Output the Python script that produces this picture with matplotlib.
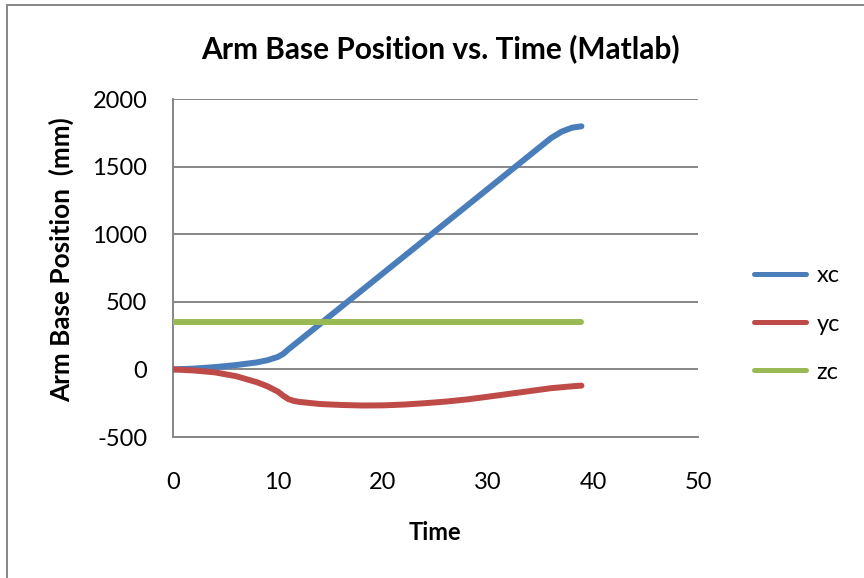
import matplotlib
matplotlib.use("Agg")
import matplotlib.pyplot as plt
from matplotlib.patches import Rectangle

plt.rcParams['font.family'] = ['Lato', 'DejaVu Sans']

# Data
t_xc = [0, 2, 4, 6, 8, 9, 10, 10.5, 11, 12, 14, 16, 18, 20, 22, 24, 26, 28, 30, 32, 34, 36, 37, 38, 38.9]
xc = [0, 6, 17, 32, 52, 68, 93, 115, 149, 211, 336, 461, 586, 711, 836, 961, 1086, 1211, 1336, 1461, 1586, 1711, 1758, 1788, 1798]

t_yc = [0, 2, 4, 6, 8, 9, 10, 10.5, 11, 11.5, 12, 14, 16, 18, 20, 22, 24, 26, 28, 30, 32, 34, 36, 38, 38.9]
yc = [0, -8, -22, -50, -95, -125, -165, -195, -220, -233, -240, -256, -263, -267, -266, -260, -250, -238, -222, -202, -181, -160, -139, -125, -120]

t_zc = [0, 10, 20, 30, 38.9]
zc = [350, 350, 350, 350, 350]

series_names = ['xc', 'yc', 'zc']
colors = ['#4A7EBB', '#BE4B48', '#98B954']

x_ticks = [0, 10, 20, 30, 40, 50]
y_ticks = [-500, 0, 500, 1000, 1500, 2000]

W, H = 864, 578
fig = plt.figure(figsize=(W / 100, H / 100), dpi=100)
ax = fig.add_axes([173 / W, 1 - 437 / H, (698 - 173) / W, (437 - 99) / H])

for tt, vv, name, c in zip([t_xc, t_yc, t_zc], [xc, yc, zc], series_names, colors):
    ax.plot(tt, vv, color=c, lw=4.3, label=name, solid_capstyle='round',
            solid_joinstyle='round', zorder=3)

ax.set_xlim(0, 50)
ax.set_ylim(-500, 2000)
ax.set_xticks(x_ticks)
ax.set_yticks(y_ticks)
ax.set_xticklabels([str(v) for v in x_ticks])
ax.set_yticklabels([str(v) for v in y_ticks])
ax.tick_params(axis='both', length=0, labelsize=17, colors='black')
ax.tick_params(axis='x', pad=25)
ax.tick_params(axis='y', pad=18.5)
ax.grid(axis='y', color='#868686', lw=1.4, zorder=1)
for s in ['top', 'right']:
    ax.spines[s].set_visible(False)
for s in ['left', 'bottom']:
    ax.spines[s].set_color('#868686')
    ax.spines[s].set_linewidth(1.4)

# Titles and axis labels placed by baseline
title = fig.text(440 / W, 1 - 58 / H, 'Arm Base Position vs. Time (Matlab)', fontsize=20,
                 fontweight='bold', ha='center', va='baseline')
xlab = ax.set_xlabel('Time', fontsize=17, fontweight='bold')
ax.xaxis.set_label_coords(434.5 / W, 1 - 540 / H, transform=fig.transFigure)
xlab.set_va('baseline')
ylab = ax.set_ylabel('Arm Base Position  (mm)', fontsize=18, fontweight='bold')
ax.yaxis.set_label_coords(70 / W, 1 - 260 / H, transform=fig.transFigure)
ylab.set_rotation_mode('anchor')
ylab.set_va('baseline')
ylab.set_ha('center')

# fit sizes of title / y label to the reference extents
fig.canvas.draw()
r = fig.canvas.get_renderer()
bw = title.get_window_extent(r).width
title.set_fontsize(20 * 480 / bw)
bh = ylab.get_window_extent(r).height
ylab.set_fontsize(18 * 284 / bh)

leg = fig.legend(loc='center left', bbox_to_anchor=(754 / W, 1 - 324 / H), frameon=False,
                 fontsize=17, handlelength=2.2, handletextpad=0.45, labelspacing=1.15,
                 borderpad=0, borderaxespad=0)
for ln in leg.get_lines():
    ln.set_linewidth(3.6)

fig.patches.append(Rectangle((7 / W, -0.1), 1.2, 1 - 5 / H + 0.1, transform=fig.transFigure,
                             fill=False, edgecolor='#868686', lw=1.4))

fig.savefig('out.png', dpi=100)
